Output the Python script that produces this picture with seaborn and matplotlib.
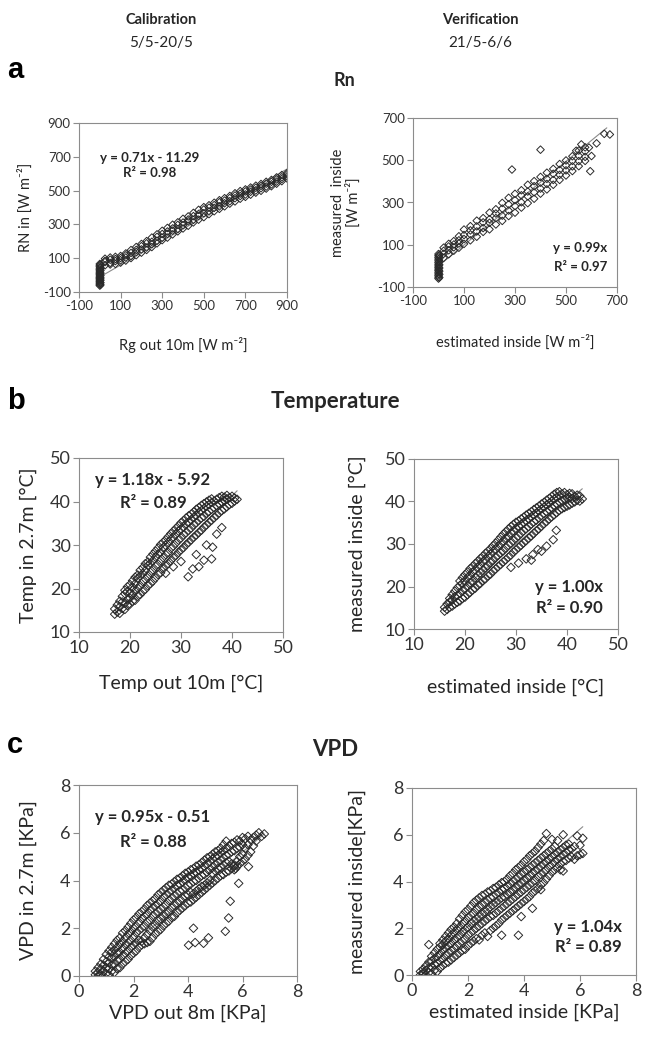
import matplotlib
matplotlib.use("Agg")
import matplotlib.pyplot as plt
import seaborn as sns

sns.set_style("ticks")
plt.rcParams["font.family"] = ["Lato", "DejaVu Sans"]
plt.rcParams["axes.unicode_minus"] = False

# ---------------- data ----------------
# Rn calibration: x = Rg out 10m, y = RN in (column x -> list of y)
rn_cal_cols = [0, 3, 25, 50, 75, 100, 125, 150, 175, 200, 225, 250, 275, 300, 325, 350,
               375, 400, 425, 450, 475, 500, 525, 550, 575, 600, 625, 650, 675, 700,
               725, 750, 775, 800, 825, 850, 875, 900]
rn_cal_vals = [
    [-62, -55, -48, -41, -35, -28, -20, -14, -6, 2, 9, 17, 25, 33, 41, 50, 58, 66],
    [-58, -45, -30, -17, -3, 12, 27, 44, 61],
    [58, 77, 84, 97], [63, 72, 91, 104], [66, 83, 95, 108], [74, 88, 101, 113],
    [86, 104, 117, 128], [101, 112, 131, 148], [118, 137, 149, 166], [133, 152, 171, 184],
    [149, 163, 188, 201], [166, 182, 197, 222], [188, 203, 226, 241], [207, 221, 243, 262],
    [222, 244, 258, 279], [241, 263, 276, 298], [259, 272, 297, 312], [276, 296, 311, 333],
    [292, 318, 329, 347], [312, 327, 349, 368], [328, 351, 362, 386], [343, 366, 388, 402],
    [361, 377, 399, 413], [378, 398, 414, 428], [392, 407, 431, 443], [407, 425, 441, 455],
    [423, 437, 456, 468], [436, 455, 471, 484], [452, 468, 482, 497], [463, 477, 495, 507],
    [476, 493, 506, 518], [488, 501, 517, 529], [499, 514, 528, 539], [512, 524, 541, 552],
    [526, 537, 552, 563], [541, 553, 566, 578], [556, 568, 579, 592], [572, 584, 596, 603],
]
rn_cal_out_x = []
rn_cal_out_y = []

# Rn verification: x = estimated inside, y = measured inside
rn_ver_cols = [0, 3, 20, 40, 60, 80, 100, 125, 150, 175, 200, 225, 250, 275, 300, 325,
               350, 375, 400, 425, 450, 475, 500, 525, 550, 575]
rn_ver_vals = [
    [-60, -53, -45, -38, -30, -22, -15, -7, 0, 8, 16, 24, 32, 40, 48, 56],
    [-55, -40, -25, -10, 5, 20, 35, 50],
    [38, 57, 71, 86], [55, 74, 92, 104], [72, 88, 101, 117], [86, 106, 121, 140],
    [104, 127, 146, 172], [121, 149, 168, 188], [138, 163, 187, 214], [161, 179, 206, 226],
    [173, 204, 221, 252], [196, 226, 248, 268], [213, 238, 271, 298], [236, 262, 291, 322],
    [252, 283, 311, 341], [276, 301, 334, 358], [297, 329, 352, 384], [318, 348, 377, 401],
    [342, 366, 394, 421], [362, 388, 412, 441], [384, 407, 436, 459], [407, 431, 454, 482],
    [428, 452, 476, 499], [449, 471, 497, 519], [472, 496, 521, 546], [497, 516, 542, 561],
]
rn_ver_out_x = [288, 400, 595, 600, 620, 650, 672, 540, 560, 590]
rn_ver_out_y = [456, 550, 448, 520, 580, 625, 622, 545, 575, 560]

# Temperature calibration: x = Temp out 10m, y = Temp in 2.7m
t_cal_cols = [17, 17.5, 18, 18.5, 19, 19.5, 20, 20.5, 21, 21.5, 22, 22.5, 23, 23.5, 24,
              24.5, 25, 25.5, 26, 26.5, 27, 27.5, 28, 28.5, 29, 29.5, 30, 30.5, 31, 31.5,
              32, 32.5, 33, 33.5, 34, 34.5, 35, 35.5, 36, 36.5, 37, 37.5, 38, 38.5, 39,
              39.5, 40, 40.5, 41]
t_cal_vals = [
    [14.1, 15.3], [14.6, 16.2], [14.3, 15.8, 17.1], [15.4, 16.9, 18.2],
    [15.2, 16.6, 18.8, 19.6], [16.1, 17.4, 19.3, 20.4], [16.4, 17.8, 19.0, 20.9],
    [17.1, 18.6, 20.3, 21.8], [17.3, 19.4, 21.1, 22.6], [18.2, 20.1, 22.3, 23.1],
    [18.6, 20.7, 22.9, 24.2], [19.3, 21.6, 23.4, 24.8], [19.8, 22.2, 24.1, 25.7],
    [20.6, 22.9, 25.3, 26.1], [21.1, 23.7, 25.8, 27.2], [21.7, 24.3, 26.4, 27.9],
    [22.4, 25.1, 27.2, 28.6], [23.2, 25.6, 27.9, 29.3], [23.6, 26.4, 28.3, 30.1],
    [24.5, 27.1, 29.4, 30.6], [25.2, 27.8, 29.9, 31.2], [25.7, 28.3, 30.6, 31.9],
    [26.4, 29.2, 31.3, 32.6], [27.1, 29.7, 31.8, 33.2], [27.6, 30.4, 32.5, 33.8],
    [28.3, 31.1, 33.2, 34.4], [28.9, 31.6, 33.7, 35.1], [29.4, 32.3, 34.2, 35.6],
    [30.1, 32.8, 34.9, 36.2], [30.6, 33.4, 35.3, 36.7], [31.2, 33.9, 35.8, 37.1],
    [31.8, 34.6, 36.4, 37.6], [32.3, 35.1, 36.8, 38.2], [32.9, 35.7, 37.5, 38.6],
    [33.4, 36.2, 37.9, 39.1], [34.1, 36.6, 38.4, 39.5], [34.6, 37.3, 38.9, 39.9],
    [35.2, 37.7, 39.3, 40.3], [35.7, 38.2, 39.8, 40.6], [36.3, 38.6, 40.1],
    [36.8, 39.1, 40.5], [37.4, 39.5, 40.9], [37.9, 39.9, 41.2], [38.3, 40.2, 41.0],
    [38.8, 40.6, 41.4], [39.3, 40.9], [39.6, 41.2], [40.1, 40.8], [40.5],
]
t_cal_out_x = [27.0, 28.5, 30.0, 31.4, 32.3, 33.5, 34.5, 36.2, 36.0, 33.0, 35.0, 37.0, 38.0]
t_cal_out_y = [23.5, 25.0, 26.2, 22.7, 24.5, 25.0, 26.5, 29.5, 26.8, 27.8, 30.0, 32.5, 34.0]

# Temperature verification
t_ver_cols = [16, 16.5, 17, 17.5, 18, 18.5, 19, 19.5, 20, 20.5, 21, 21.5, 22, 22.5, 23,
              23.5, 24, 24.5, 25, 25.5, 26, 26.5, 27, 27.5, 28, 28.5, 29, 29.5, 30, 30.5,
              31, 31.5, 32, 32.5, 33, 33.5, 34, 34.5, 35, 35.5, 36, 36.5, 37, 37.5, 38,
              38.5, 39, 39.5, 40, 40.5, 41, 41.5, 42, 42.5, 43]
t_ver_vals = [
    [14.2, 15.1], [14.6, 15.9], [15.1, 16.4, 17.2], [15.4, 16.8, 18.1], [15.9, 17.6, 18.9],
    [16.3, 17.9, 19.7], [16.6, 18.4, 20.2, 21.3], [17.2, 19.1, 20.8, 22.1],
    [17.5, 19.6, 21.3, 22.8], [18.1, 20.2, 22.1, 23.4], [18.6, 20.9, 22.6, 24.2],
    [19.2, 21.3, 23.4, 24.7], [19.6, 22.1, 23.9, 25.4], [20.3, 22.6, 24.6, 25.9],
    [20.7, 23.2, 25.1, 26.6], [21.4, 23.8, 25.9, 27.1], [21.8, 24.4, 26.3, 27.8],
    [22.5, 24.9, 27.1, 28.3], [22.9, 25.6, 27.6, 28.9], [23.6, 26.1, 28.3, 29.6],
    [24.1, 26.8, 28.8, 30.2], [24.7, 27.3, 29.5, 30.9], [25.2, 27.9, 30.1, 31.6],
    [25.8, 28.4, 30.7, 32.3], [26.3, 29.1, 31.4, 32.9], [26.9, 29.7, 31.9, 33.5],
    [27.4, 30.2, 32.6, 34.1], [28.1, 30.8, 33.1, 34.6], [28.6, 31.4, 33.7, 35.1],
    [29.2, 31.9, 34.2, 35.4], [29.7, 32.5, 34.6, 35.9], [30.3, 33.1, 35.1, 36.3],
    [30.8, 33.6, 35.5, 36.8], [31.4, 34.1, 35.9, 37.2], [31.9, 34.7, 36.4, 37.6],
    [32.5, 35.2, 36.9, 38.1], [33.1, 35.6, 37.3, 38.5], [33.6, 36.2, 37.8, 38.9],
    [34.2, 36.7, 38.3, 39.4], [34.8, 37.2, 38.7, 39.8], [35.3, 37.6, 39.2, 40.3],
    [35.9, 38.1, 39.6, 40.7], [36.4, 38.6, 40.1, 41.2], [36.9, 39.1, 40.6, 41.7],
    [37.4, 39.5, 41.0, 42.1], [37.9, 39.9, 41.4, 42.3], [38.3, 40.2, 41.8],
    [38.6, 40.5, 42.1], [38.9, 40.8, 41.6], [39.2, 40.9, 41.9], [39.6, 40.7, 41.8],
    [39.9, 41.2], [40.3, 41.5], [40.1, 41.3], [40.6],
]
t_ver_out_x = [32.0, 33.3, 34.3, 36.0, 37.3, 37.9, 30.5, 29.0, 33.0, 35.0]
t_ver_out_y = [26.5, 27.5, 28.7, 29.5, 31.0, 33.2, 25.5, 24.5, 26.2, 28.3]

# VPD calibration: x = VPD out 8m, y = VPD in 2.7m
v_cal_cols = [0.6, 0.7, 0.8, 0.9, 1.0, 1.1, 1.2, 1.3, 1.4, 1.5, 1.6, 1.7, 1.8, 1.9, 2.0,
              2.1, 2.2, 2.3, 2.4, 2.5, 2.6, 2.7, 2.8, 2.9, 3.0, 3.1, 3.2, 3.3, 3.4, 3.5,
              3.6, 3.7, 3.8, 3.9, 4.0, 4.1, 4.2, 4.3, 4.4, 4.5, 4.6, 4.7, 4.8, 4.9, 5.0,
              5.1, 5.2, 5.3, 5.4, 5.5, 5.6, 5.7, 5.8, 5.9, 6.0, 6.1, 6.2, 6.3, 6.4, 6.5,
              6.6, 6.7, 6.8]
v_cal_vals = [
    [0.05, 0.2], [0.0, 0.15, 0.35], [0.05, 0.3, 0.5], [0.0, 0.2, 0.45, 0.7],
    [0.1, 0.35, 0.6, 0.9], [0.05, 0.3, 0.55, 0.8, 1.05], [0.2, 0.45, 0.75, 1.0, 1.2],
    [0.15, 0.5, 0.8, 1.1, 1.35], [0.3, 0.65, 0.95, 1.2, 1.5], [0.35, 0.7, 1.0, 1.35, 1.6],
    [0.5, 0.85, 1.15, 1.45, 1.8], [0.6, 0.95, 1.3, 1.6, 1.9], [0.7, 1.05, 1.4, 1.75, 2.05],
    [0.85, 1.2, 1.5, 1.85, 2.2], [0.95, 1.3, 1.65, 2.0, 2.35], [1.05, 1.4, 1.8, 2.1, 2.45],
    [1.2, 1.5, 1.9, 2.25, 2.6], [1.3, 1.45, 2.0, 2.4, 2.7], [1.35, 1.6, 2.1, 2.5, 2.8],
    [1.4, 1.75, 2.25, 2.6, 2.95], [1.45, 1.9, 2.35, 2.75, 3.05], [1.6, 2.05, 2.5, 2.85, 3.15],
    [1.75, 2.15, 2.6, 2.95, 3.25], [1.85, 2.3, 2.7, 3.05, 3.4], [1.95, 2.4, 2.8, 3.15, 3.5],
    [2.1, 2.5, 2.9, 3.3, 3.6], [2.2, 2.6, 3.0, 3.4, 3.7], [2.3, 2.7, 3.15, 3.5, 3.8],
    [2.45, 2.85, 3.25, 3.6, 3.85], [2.5, 2.95, 3.35, 3.7, 3.95], [2.65, 3.05, 3.45, 3.8, 4.05],
    [2.75, 3.15, 3.55, 3.85, 4.1], [2.85, 3.25, 3.6, 3.95, 4.2], [2.95, 3.35, 3.7, 4.05, 4.3],
    [3.05, 3.4, 3.8, 4.15, 4.35], [3.1, 3.5, 3.85, 4.2, 4.45], [3.2, 3.45, 3.95, 4.3, 4.5],
    [3.3, 3.55, 4.0, 4.35, 4.6], [3.4, 3.65, 4.1, 4.45, 4.65], [3.5, 3.75, 4.2, 4.5, 4.75],
    [3.6, 3.8, 4.25, 4.6, 4.85], [3.7, 3.9, 4.35, 4.7, 4.95], [3.8, 4.0, 4.45, 4.8, 5.0],
    [3.9, 4.3, 4.55, 4.9, 5.1], [4.0, 4.4, 4.65, 5.0, 5.2], [4.1, 4.5, 4.75, 5.05, 5.25],
    [4.2, 4.55, 4.85, 5.15, 5.35], [4.25, 4.65, 4.95, 5.25, 5.5],
    [4.35, 4.75, 5.05, 5.35, 5.65], [4.4, 4.8, 5.1, 5.45], [4.5, 4.7, 5.2, 5.55],
    [4.45, 4.65, 5.25, 5.6], [4.6, 4.8, 5.35, 5.7], [4.7, 5.0, 5.4, 5.65],
    [4.8, 5.1, 5.5, 5.8], [4.9, 5.35, 5.75], [5.05, 5.5, 5.85], [5.2, 5.7], [5.45, 5.8],
    [5.65, 5.9], [6.0], [5.85], [5.95],
]
v_cal_out_x = [4.02, 4.26, 4.57, 4.75, 4.2, 5.37, 5.49, 5.55, 5.86, 6.22, 5.7, 5.75]
v_cal_out_y = [1.29, 1.40, 1.37, 1.60, 2.0, 1.87, 2.43, 3.13, 3.88, 4.58, 4.6, 4.5]

# VPD verification
v_ver_cols = [0.3, 0.4, 0.5, 0.6, 0.7, 0.8, 0.9, 1.0, 1.1, 1.2, 1.3, 1.4, 1.5, 1.6, 1.7,
              1.8, 1.9, 2.0, 2.1, 2.2, 2.3, 2.4, 2.5, 2.6, 2.7, 2.8, 2.9, 3.0, 3.1, 3.2,
              3.3, 3.4, 3.5, 3.6, 3.7, 3.8, 3.9, 4.0, 4.1, 4.2, 4.3, 4.4, 4.5, 4.6, 4.7,
              4.8, 4.9, 5.0, 5.1, 5.2, 5.3, 5.4, 5.5, 5.6, 5.7, 5.8, 5.9, 6.0, 6.1]
v_ver_vals = [
    [0.0, 0.15], [0.05, 0.25, 0.1], [0.0, 0.2, 0.4], [0.1, 0.3, 0.55, 1.3],
    [0.05, 0.35, 0.6, 0.8], [0.2, 0.45, 0.7, 0.95], [0.15, 0.5, 0.8, 1.1],
    [0.3, 0.6, 0.9, 1.2, 1.35], [0.4, 0.7, 1.05, 1.3, 1.5], [0.5, 0.85, 1.15, 1.45, 1.65],
    [0.55, 0.95, 1.25, 1.55, 1.8], [0.65, 1.05, 1.35, 1.7, 1.95], [0.75, 1.15, 1.5, 1.8, 2.05],
    [0.85, 1.25, 1.6, 1.95, 2.2], [0.95, 1.35, 1.7, 2.05, 2.4], [1.05, 1.45, 1.85, 2.2, 2.55],
    [1.1, 1.55, 1.95, 2.3, 2.7], [1.25, 1.7, 2.05, 2.45, 2.8], [1.35, 1.8, 2.2, 2.55, 2.95],
    [1.45, 1.9, 2.3, 2.65, 3.1], [1.55, 2.0, 2.4, 2.8, 3.2], [1.5, 2.1, 2.5, 2.9, 3.3],
    [1.7, 2.2, 2.6, 3.0, 3.4], [1.8, 2.3, 2.7, 3.1, 3.45], [1.65, 2.4, 2.8, 3.2, 3.55],
    [1.9, 2.5, 2.9, 3.3, 3.6], [2.0, 2.55, 3.0, 3.35, 3.7], [2.1, 2.65, 3.1, 3.45, 3.75],
    [2.2, 2.75, 3.2, 3.55, 3.85], [1.7, 2.35, 2.85, 3.3, 3.65, 3.95],
    [2.45, 2.95, 3.35, 3.7, 4.0], [2.55, 3.05, 3.45, 3.8, 4.1], [2.65, 3.15, 3.55, 3.9, 4.25],
    [2.75, 3.25, 3.65, 4.0, 4.35], [2.85, 3.35, 3.75, 4.1, 4.5],
    [1.7, 2.95, 3.45, 3.85, 4.2, 4.6], [2.5, 3.05, 3.55, 3.95, 4.3, 4.7],
    [3.15, 3.65, 4.05, 4.4, 4.85], [3.25, 3.75, 4.15, 4.5, 4.95], [3.35, 3.85, 4.25, 4.6, 5.1],
    [2.85, 3.5, 3.95, 4.35, 4.7, 5.2], [3.6, 4.05, 4.45, 4.8, 5.3],
    [3.7, 4.2, 4.55, 4.9, 5.45], [3.65, 3.85, 4.3, 4.65, 5.0, 5.6],
    [3.95, 4.4, 4.75, 5.1, 5.75], [4.1, 4.5, 4.85, 5.2, 6.05], [4.25, 4.65, 4.95, 5.3],
    [4.4, 4.75, 5.05, 5.4, 5.8], [4.5, 4.85, 5.15, 5.5], [4.6, 4.95, 5.25, 5.75],
    [4.5, 4.75, 5.05, 5.35], [4.45, 4.85, 5.15, 5.45, 6.0], [4.9, 5.25, 5.55],
    [5.0, 5.35, 5.6], [5.05, 5.4], [4.95, 5.5], [5.1, 5.95], [5.15, 5.55], [5.2, 5.85],
]
v_ver_out_x = []
v_ver_out_y = []

# regression lines: slope, intercept, x-range
fit_slope = [0.71, 0.99, 1.18, 1.00, 0.95, 1.04]
fit_intercept = [-11.29, 0.0, -5.92, 0.0, -0.51, 0.0]
fit_xmin = [0, 0, 17, 16, 0.6, 0.3]
fit_xmax = [900, 660, 41, 43, 6.8, 6.1]
eq_line1 = ["y = 0.71x - 11.29", "y = 0.99x", "y = 1.18x - 5.92", "y = 1.00x",
            "y = 0.95x - 0.51", "y = 1.04x"]
eq_line2 = ["R² = 0.98", "R² = 0.97", "R² = 0.89", "R² = 0.90", "R² = 0.88", "R² = 0.89"]

x_labels = ["Rg out 10m [W m⁻²]", "estimated inside [W m⁻²]", "Temp out 10m [°C]",
            "estimated inside [°C]", "VPD out 8m [KPa]", "estimated inside [KPa]"]
y_labels = ["RN in [W m⁻²]", "measured  inside\n[W m⁻²]", "Temp in 2.7m [°C]",
            "measured inside [°C]", "VPD in 2.7m [KPa]", "measured inside[KPa]"]
x_ticks = [[-100, 100, 300, 500, 700, 900], [-100, 100, 300, 500, 700],
           [10, 20, 30, 40, 50], [10, 20, 30, 40, 50], [0, 2, 4, 6, 8], [0, 2, 4, 6, 8]]
y_ticks = [[-100, 100, 300, 500, 700, 900], [-100, 100, 300, 500, 700],
           [10, 20, 30, 40, 50], [10, 20, 30, 40, 50], [0, 2, 4, 6, 8], [0, 2, 4, 6, 8]]

# ---------------- layout ----------------
W, H = 646, 1038
fig = plt.figure(figsize=(W / 100, H / 100), dpi=100)
TXT = "#262626"
GRID = "#8c8c8c"


def ftext(x, y, s, **kw):
    kw.setdefault("color", TXT)
    fig.text(x / W, 1 - y / H, s, **kw)


def expand(cols, vals, ox, oy):
    xs, ys = [], []
    for c, v in zip(cols, vals):
        for y in v:
            xs.append(c)
            ys.append(y)
    return xs + list(ox), ys + list(oy)


datasets = [
    expand(rn_cal_cols, rn_cal_vals, rn_cal_out_x, rn_cal_out_y),
    expand(rn_ver_cols, rn_ver_vals, rn_ver_out_x, rn_ver_out_y),
    expand(t_cal_cols, t_cal_vals, t_cal_out_x, t_cal_out_y),
    expand(t_ver_cols, t_ver_vals, t_ver_out_x, t_ver_out_y),
    expand(v_cal_cols, v_cal_vals, v_cal_out_x, v_cal_out_y),
    expand(v_ver_cols, v_ver_vals, v_ver_out_x, v_ver_out_y),
]

# pixel boxes (left, top, right, bottom)
boxes = [(79, 123, 287, 292), (413, 118, 617, 287),
         (79, 458, 283, 632), (414, 459, 618, 629),
         (79, 785, 297, 976), (412, 788, 636, 975)]
ylabel_x = [25, 346, 28, 357, 28, 357]
xlabel_y = [345, 342, 683, 687, 1013, 1012]
tick_fs = [9.5, 9.5, 13, 13, 13, 13]
label_fs = [10.5, 10.5, 14, 14, 14, 14]
eq_fs = [9.5, 9.5, 12, 12, 12, 12]
eq_pos = [(150, 158, 173, "center"), (607, 248, 267, "right"),
          (153, 480, 503, "center"), (603, 587, 608, "right"),
          (153, 817, 842, "center"), (622, 927, 947, "right")]
msize = [15, 15, 19, 19, 19, 19]

for i in range(6):
    l, t, r, b = boxes[i]
    ax = fig.add_axes([l / W, 1 - b / H, (r - l) / W, (b - t) / H])
    xs, ys = datasets[i]
    lx = [fit_xmin[i], fit_xmax[i]]
    ly = [fit_slope[i] * v + fit_intercept[i] for v in lx]
    sns.lineplot(x=lx, y=ly, ax=ax, color="#8a8a8a", linewidth=0.8, zorder=2)
    sns.scatterplot(x=xs, y=ys, ax=ax, marker="D", s=msize[i], facecolors="none",
                    edgecolor="#2a2a2a", linewidth=0.7, legend=False, zorder=3)
    ax.set_xlim(x_ticks[i][0], x_ticks[i][-1])
    ax.set_ylim(y_ticks[i][0], y_ticks[i][-1])
    ax.set_xticks(x_ticks[i])
    ax.set_yticks(y_ticks[i])
    for s in ax.spines.values():
        s.set_color(GRID)
        s.set_linewidth(0.8)
    ax.tick_params(direction="out", length=4, width=0.8, color=GRID,
                   labelsize=tick_fs[i], labelcolor="#333333", pad=2)
    ax.set_xlabel(x_labels[i], fontsize=label_fs[i], color=TXT)
    ax.set_ylabel(y_labels[i], fontsize=label_fs[i], color=TXT, linespacing=1.1)
    ax.xaxis.label.set_va("center")
    ax.yaxis.label.set_va("center")
    ax.yaxis.label.set_ha("center")
    ax.xaxis.set_label_coords(0.5, (b - xlabel_y[i]) / (b - t))
    ax.yaxis.set_label_coords((ylabel_x[i] - l) / (r - l), 0.5)
    ex, ey1, ey2, ha = eq_pos[i]
    ftext(ex, ey1, eq_line1[i], fontsize=eq_fs[i], fontweight="bold", ha=ha, va="center")
    ftext(ex, ey2, eq_line2[i], fontsize=eq_fs[i], fontweight="bold", ha=ha, va="center")

# headers
ftext(161, 20, "Calibration", fontsize=10.5, fontweight="bold", ha="center", va="center")
ftext(161, 43, "5/5-20/5", fontsize=11, ha="center", va="center")
ftext(480, 20, "Verification", fontsize=10.5, fontweight="bold", ha="center", va="center")
ftext(480, 43, "21/5-6/6", fontsize=11, ha="center", va="center")

for letter, y in [("a", 70), ("b", 401), ("c", 745)]:
    ftext(7, y, letter, fontsize=21, fontweight="bold", ha="left", va="center",
          family=["Liberation Sans", "DejaVu Sans"], color="black")

ftext(344, 80, "Rn", fontsize=13, fontweight="bold", ha="center", va="center")
ftext(335, 401, "Temperature", fontsize=16, fontweight="bold", ha="center", va="center")
ftext(335, 750, "VPD", fontsize=16, fontweight="bold", ha="center", va="center")

fig.savefig("out.png", dpi=100, facecolor="white")
